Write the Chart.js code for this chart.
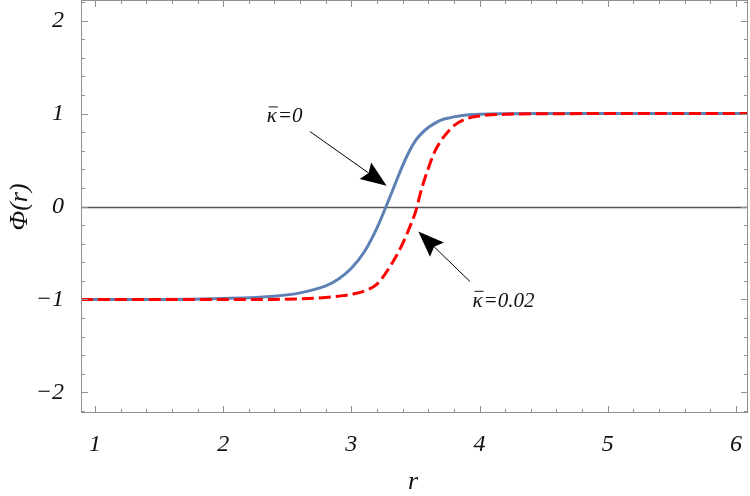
<!DOCTYPE html>
<html>
<head>
<meta charset="utf-8">
<script src="https://cdn.jsdelivr.net/npm/chart.js@4.4.0/dist/chart.umd.min.js"></script>
<style>
  html, body { margin: 0; padding: 0; background: #ffffff; }
  #wrap { width: 750px; height: 496px; }
  #probe { position: absolute; left: -1000px; top: 0; font: italic 24px "Liberation Serif"; }
</style>
</head>
<body>
<div id="wrap"><canvas id="c" width="750" height="496"></canvas></div>
<div id="probe">&#x3A6;(r) &#x3BA;=0.02 &#x2212;12</div>
<script>
// ---- data ----
const rValues      = [0.89, 1.5, 2.0, 2.4, 2.6, 2.8, 2.9, 3.0, 3.1, 3.2, 3.3, 3.4, 3.45, 3.5, 3.55, 3.6, 3.65, 3.7, 3.75, 3.8, 3.9, 4.0, 4.2, 4.5, 5.0, 5.5, 6.1];
const phiKappa0    = [-1.0, -1.0, -0.99, -0.965, -0.93, -0.855, -0.78, -0.665, -0.49, -0.23, 0.10, 0.44, 0.59, 0.71, 0.79, 0.85, 0.895, 0.93, 0.95, 0.965, 0.985, 0.993, 0.998, 1.0, 1.0, 1.0, 1.0];
const phiKappa002  = [-1.0, -1.0, -1.0, -1.0, -0.995, -0.98, -0.965, -0.945, -0.91, -0.835, -0.65, -0.40, -0.24, -0.06, 0.20, 0.41, 0.59, 0.71, 0.80, 0.87, 0.945, 0.975, 0.993, 0.999, 1.0, 1.0, 1.0];
const xMajorTicks  = [1, 2, 3, 4, 5, 6];
const yMajorTicks  = [-2, -1, 0, 1, 2];
const xTickLabels  = ['1', '2', '3', '4', '5', '6'];
const yTickLabels  = ['\u22122', '\u22121', '0', '1', '2'];
const xRange = [0.891, 6.094];
const yRange = [-2.223, 2.223];
const minorStep = 0.2;

function minorTicks(range) {
  const out = [];
  const start = Math.ceil(range[0] / minorStep - 1e-9);
  const end = Math.floor(range[1] / minorStep + 1e-9);
  for (let i = start; i <= end; i++) out.push(Math.round(i * minorStep * 1000) / 1000);
  return out;
}
const xAllTicks = minorTicks(xRange);
const yAllTicks = minorTicks(yRange);
function isMajor(v) { return Math.abs(v - Math.round(v)) < 1e-6; }

const toPts = (ys) => rValues.map((r, i) => ({ x: r, y: ys[i] }));

const SERIF = '"Liberation Serif", "Times New Roman", serif';

const framePlugin = {
  id: 'frame',
  beforeDatasetsDraw(chart) {
    const { ctx, chartArea: a, scales } = chart;
    const y0 = Math.round(scales.y.getPixelForValue(0)) + 0.5;
    ctx.save();
    ctx.strokeStyle = 'rgb(85,85,85)';
    ctx.lineWidth = 1.6;
    ctx.beginPath();
    ctx.moveTo(a.left, y0);
    ctx.lineTo(a.right, y0);
    ctx.stroke();
    ctx.restore();
  },
  afterDraw(chart) {
    const { ctx, chartArea: a, scales } = chart;
    const xs = scales.x, ys = scales.y;
    ctx.save();
    ctx.strokeStyle = 'rgb(145,145,145)';
    ctx.lineWidth = 1;
    ctx.strokeRect(a.left + 0.5, a.top + 0.5, a.right - a.left - 1, a.bottom - a.top - 1);
    ctx.beginPath();
    xAllTicks.forEach(v => {
      const px = Math.round(xs.getPixelForValue(v)) + 0.5;
      const len = isMajor(v) ? 7 : 4;
      ctx.moveTo(px, a.bottom); ctx.lineTo(px, a.bottom - len);
      ctx.moveTo(px, a.top); ctx.lineTo(px, a.top + len);
    });
    yAllTicks.forEach(v => {
      const py = Math.round(ys.getPixelForValue(v)) + 0.5;
      const len = isMajor(v) ? 7 : 4;
      ctx.moveTo(a.left, py); ctx.lineTo(a.left + len, py);
      ctx.moveTo(a.right, py); ctx.lineTo(a.right - len, py);
    });
    ctx.stroke();

    // axis titles
    ctx.fillStyle = '#111';
    ctx.font = 'italic 26px ' + SERIF;
    ctx.textAlign = 'center';
    ctx.textBaseline = 'alphabetic';
    ctx.fillText('r', 413, 489);
    ctx.save();
    ctx.translate(27, 207);
    ctx.rotate(-Math.PI / 2);
    ctx.fillText('\u03A6(r)', 0, 0);
    ctx.restore();

    // annotations
    drawArrow(ctx, xs.getPixelForValue(2.677), ys.getPixelForValue(0.807),
                   xs.getPixelForValue(3.275), ys.getPixelForValue(0.223));
    drawArrow(ctx, xs.getPixelForValue(3.925), ys.getPixelForValue(-0.807),
                   xs.getPixelForValue(3.522), ys.getPixelForValue(-0.269));
    drawKappa(ctx, xs.getPixelForValue(2.34), ys.getPixelForValue(0.905), '=0');
    drawKappa(ctx, xs.getPixelForValue(3.945), ys.getPixelForValue(-1.08), '=0.02');
    ctx.restore();
  }
};

function drawArrow(ctx, x1, y1, x2, y2) {
  const ang = Math.atan2(y2 - y1, x2 - x1);
  const L = 26, W = 10, notch = 4;
  ctx.save();
  ctx.strokeStyle = '#000';
  ctx.fillStyle = '#000';
  ctx.lineWidth = 1;
  ctx.beginPath();
  ctx.moveTo(x1, y1);
  ctx.lineTo(x2 - Math.cos(ang) * (L - notch), y2 - Math.sin(ang) * (L - notch));
  ctx.stroke();
  ctx.translate(x2, y2);
  ctx.rotate(ang);
  ctx.beginPath();
  ctx.moveTo(0, 0);
  ctx.lineTo(-L, -W);
  ctx.lineTo(-L + notch, 0);
  ctx.lineTo(-L, W);
  ctx.closePath();
  ctx.fill();
  ctx.restore();
}

function drawKappa(ctx, x, y, rest) {
  ctx.save();
  ctx.font = 'italic 21px ' + SERIF;
  ctx.fillStyle = '#111';
  ctx.textAlign = 'left';
  ctx.textBaseline = 'alphabetic';
  const kw = ctx.measureText('\u03BA').width;
  ctx.fillText('\u03BA', x, y);
  ctx.strokeStyle = '#111';
  ctx.lineWidth = 1;
  ctx.beginPath();
  ctx.moveTo(x + 2, y - 15.5);
  ctx.lineTo(x + kw + 1, y - 15.5);
  ctx.stroke();
  ctx.fillText(rest, x + kw + 1, y);
  ctx.restore();
}

function zeroPad(s) { s.paddingTop = 0; s.paddingBottom = 0; s.paddingLeft = 0; s.paddingRight = 0; }

function build() {
  new Chart(document.getElementById('c'), {
    type: 'scatter',
    data: {
      datasets: [
        {
          label: '\u03BA=0.02',
          data: toPts(phiKappa002),
          showLine: true,
          borderColor: 'rgb(255,0,0)',
          borderWidth: 3,
          borderDash: [12, 5],
          pointRadius: 0,
          cubicInterpolationMode: 'monotone',
          fill: false
        },
        {
          label: '\u03BA=0',
          data: toPts(phiKappa0),
          showLine: true,
          borderColor: 'rgb(94,129,181)',
          borderWidth: 3,
          pointRadius: 0,
          cubicInterpolationMode: 'monotone',
          fill: false
        }
      ]
    },
    options: {
      responsive: false,
      animation: false,
      devicePixelRatio: 1,
      layout: { padding: { left: 0, right: 2, top: 0, bottom: 0 } },
      plugins: { legend: { display: false }, tooltip: { enabled: false } },
      scales: {
        x: {
          type: 'linear',
          min: xRange[0], max: xRange[1],
          afterBuildTicks: (s) => { s.ticks = xAllTicks.map(v => ({ value: v })); },
          afterFit: (s) => { s.height = 83; zeroPad(s); },
          grid: { display: false },
          border: { display: false },
          ticks: {
            autoSkip: false, maxRotation: 0, padding: 9,
            color: '#111',
            font: { family: SERIF, size: 24, style: 'italic' },
            callback: (v) => { const i = xMajorTicks.findIndex(m => Math.abs(m - v) < 1e-6); return i >= 0 ? xTickLabels[i] : ''; }
          }
        },
        y: {
          type: 'linear',
          min: yRange[0], max: yRange[1],
          afterBuildTicks: (s) => { s.ticks = yAllTicks.map(v => ({ value: v })); },
          afterFit: (s) => { s.width = 81; zeroPad(s); },
          grid: { display: false },
          border: { display: false },
          ticks: {
            autoSkip: false, padding: 9,
            color: '#111',
            font: { family: SERIF, size: 24, style: 'italic' },
            callback: (v) => { const i = yMajorTicks.findIndex(m => Math.abs(m - v) < 1e-6); return i >= 0 ? yTickLabels[i] : ''; }
          }
        }
      }
    },
    plugins: [framePlugin]
  });
}

let built = false;
function once() { if (!built) { built = true; build(); } }
if (document.fonts && document.fonts.load) {
  Promise.all([
    document.fonts.load('italic 24px "Liberation Serif"'),
    document.fonts.load('italic 21px "Liberation Serif"')
  ]).then(once, once);
  setTimeout(once, 400);
} else {
  once();
}
</script>
</body>
</html>
